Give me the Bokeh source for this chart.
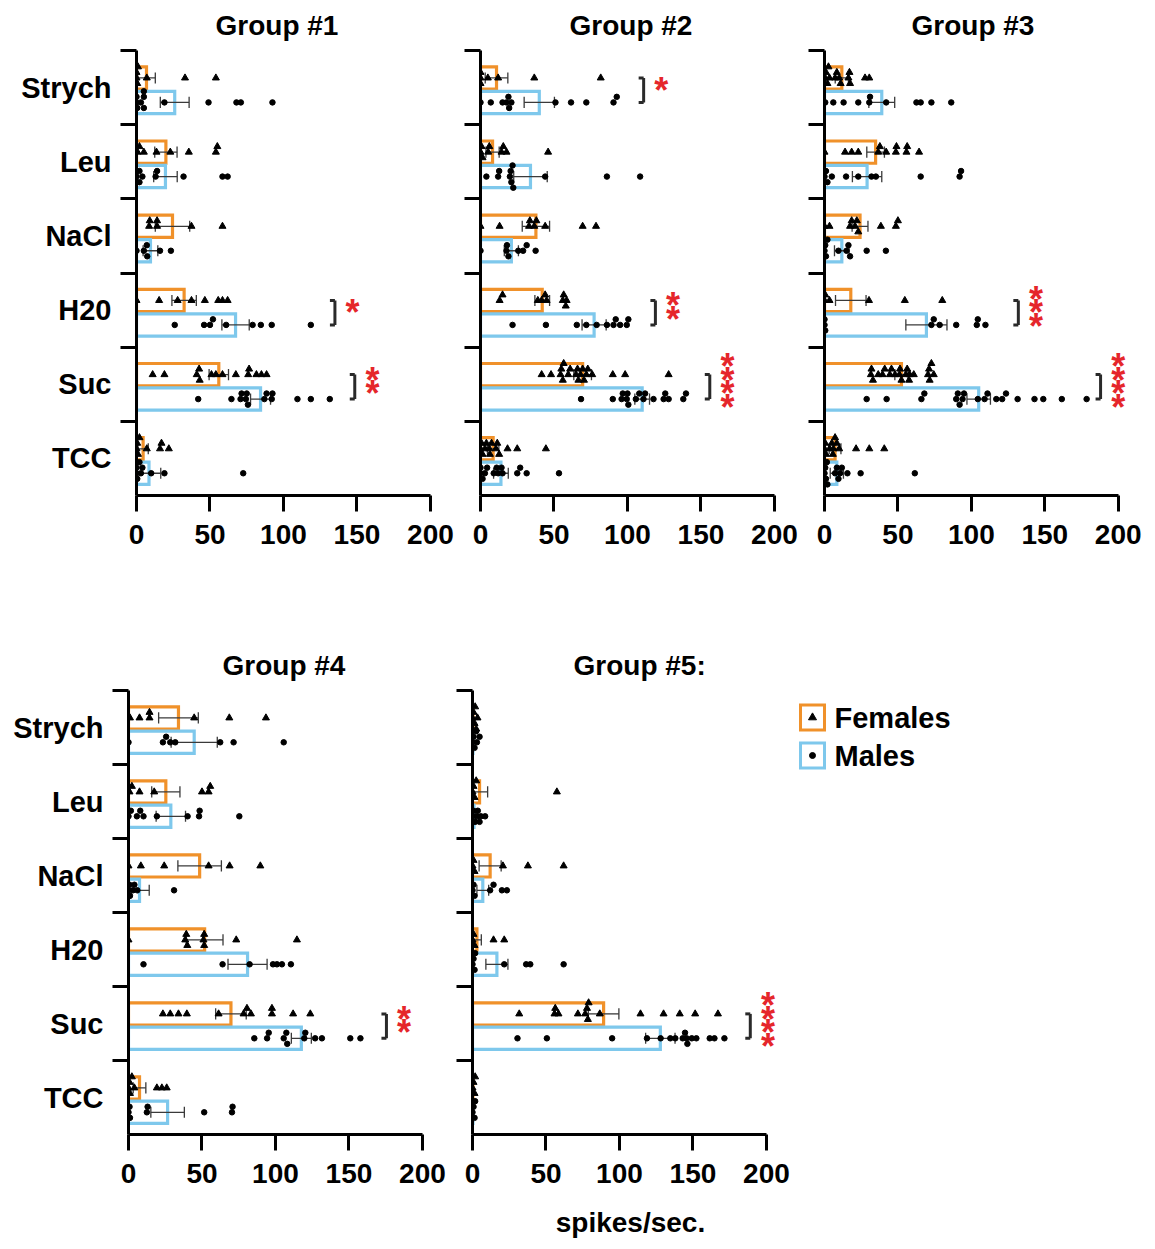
from bokeh.plotting import figure
from bokeh.layouts import row, column
from bokeh.models import Range1d, FixedTicker, LinearAxis
from bokeh.core.properties import value
from bokeh.embed import file_html
from bokeh.resources import INLINE

CATS = ["Strych", "Leu", "NaCl", "H20", "Suc", "TCC"]
XTICKS = [0, 50, 100, 150, 200]
TITLES = ["Group #1", "Group #2", "Group #3", "Group #4", "Group #5:"]
XLABEL = "spikes/sec."

# ---------------- Group #1 ----------------
G1_F_MEAN = [6.8, 20, 24.5, 32.4, 56, 4.5]
G1_F_SEM = [6, 7.6, 11.7, 8.3, 6.6, 3.5]
G1_M_MEAN = [26, 19.7, 9.5, 67.4, 84.4, 8.5]
G1_M_SEM = [9.8, 8, 5, 9.3, 6.8, 8]
G1_F_PTS = [[0, 0, 0.5, 1, 7, 33, 54],
            [0.7, 2, 5, 13.6, 23, 35.6, 54, 55],
            [8.6, 9, 14, 14, 37.4, 58.5],
            [0, 15.4, 28, 37.4, 46.5, 55.6, 58.5, 62],
            [11, 19, 41, 42.6, 43, 51, 54, 58.5, 67.6, 76, 76.6, 81.6, 85, 88.5],
            [0, 0.5, 1, 2, 7, 16, 17, 22]]
G1_M_PTS = [[0, 0, 0.5, 3, 5, 5, 5, 19, 49, 68, 71, 92.5],
            [0, 2, 2, 4, 13, 14, 32, 58.5, 62],
            [0, 5, 7, 7.3, 16, 23.4],
            [26, 46, 50, 52, 61, 79, 84.6, 92, 118.6],
            [42, 64.6, 70.8, 71.5, 74.4, 75, 75.8, 87, 88.5, 92, 92.5, 109.5, 118.6, 131.5],
            [0, 0, 0.5, 2, 3, 4, 10, 19, 72.6]]
G1_SIG = [("H20", 135, 1), ("Suc", 148.5, 2)]

# ---------------- Group #2 ----------------
G2_F_MEAN = [10.9, 8.2, 37.7, 42, 69.5, 8.6]
G2_F_SEM = [7.7, 4.5, 9.3, 5, 6, 3.9]
G2_M_MEAN = [40, 34, 21, 77.3, 110, 13.9]
G2_M_SEM = [10.3, 11.4, 4.8, 8.2, 5, 5]
G2_F_PTS = [[0, 0, 0, 5, 12, 36.6, 81.8],
            [0, 0.7, 1.4, 5.2, 6, 14.3, 15.5, 17.7, 46],
            [0, 13, 33, 33.6, 36.6, 38, 44, 69.5, 78.6],
            [13, 15, 39, 41.6, 44, 45, 56, 56.6, 58, 58.6],
            [41.6, 48, 54.5, 55, 56, 56.6, 59.7, 61, 65, 66, 66.6, 68, 69.5, 70.4, 72, 73, 76, 90, 98.4, 128],
            [0, 0.7, 1.4, 3, 4, 6, 6.4, 7.5, 10.5, 11.4, 12.7, 18.4, 25, 44.5]]
G2_M_PTS = [[0, 7, 15, 17.7, 19, 19.5, 21, 51, 61.6, 72, 90.5, 92.7],
            [4, 12, 12.7, 20, 20.5, 21, 21.8, 22.3, 44, 86, 108.6],
            [0, 17.7, 18, 19, 25.7, 29, 31.4, 37.5],
            [21.8, 44.5, 65.5, 72, 79, 86, 90.5, 92, 95, 99.5, 100.6],
            [68.4, 90, 96, 96.8, 99.5, 100, 100.6, 105.7, 108, 110.9, 112, 117.7, 124.6, 125.7, 128, 138, 139.8],
            [0, 0, 1.4, 3, 4.5, 9, 11, 12, 14.3, 15, 25, 27, 31.4, 53.4]]
G2_SIG = [("Strych", 111, 1), ("H20", 119, 2), ("Suc", 156, 4)]

# ---------------- Group #3 ----------------
G3_F_MEAN = [11.8, 34.8, 24.2, 17.9, 52.4, 7.2]
G3_F_SEM = [4.5, 6, 5.4, 10.4, 4.5, 4]
G3_M_MEAN = [39, 29, 11.8, 69.4, 105, 8.4]
G3_M_SEM = [8.8, 10, 5, 14, 8, 4.5]
G3_F_PTS = [[0.5, 1, 2, 2.7, 3.4, 7.2, 8.4, 10, 11, 16.3, 17, 17.4, 27.6, 30.5],
            [0, 14, 18.5, 23, 36.6, 37.7, 42, 48.6, 49, 55.8, 56.3, 64.4],
            [0, 3.4, 17.4, 18.5, 20.8, 22, 23, 38.4, 48.6, 50],
            [0, 0.5, 3.4, 30.3, 54.7, 80.2],
            [31.6, 32, 33, 36.6, 39.5, 41, 44.5, 45.6, 48, 51, 51.4, 52.4, 55.4, 56.3, 57.6, 58, 60.8, 70.5, 71.2, 71.6, 72.8, 74.4],
            [0, 0.5, 1, 3.4, 5, 5.7, 6, 7.2, 8.4, 10, 21.5, 30.5, 40.7]]
G3_M_PTS = [[0.5, 6, 13, 23, 30.5, 31, 42, 62.6, 65.5, 72.8, 86.3],
            [0, 1, 2, 5, 14.7, 23, 32, 35, 65.5, 92, 93],
            [0, 0.5, 1, 2, 9.5, 15, 16.3, 17.4, 28.7, 41.8],
            [0, 0, 0.5, 72.8, 74.4, 78.4, 89.7, 103.7, 104.4, 109.6],
            [28.7, 42.3, 66, 68, 89.7, 90.8, 92, 94, 95, 104.4, 109, 111, 117, 121, 123.6, 131.5, 143, 149, 161.6, 178.5],
            [0, 0.5, 1, 1.6, 2, 7.2, 8.4, 9.5, 10.6, 11.8, 15.6, 24.6, 61.5]]
G3_SIG = [("H20", 132, 3), ("Suc", 188, 4)]

# ---------------- Group #4 ----------------
G4_F_MEAN = [34, 25.4, 48.4, 51.8, 69.7, 7.5]
G4_F_SEM = [13.5, 9.6, 14.8, 12.5, 10.4, 4.3]
G4_M_MEAN = [44.7, 28.8, 7.5, 81, 117.6, 26.6]
G4_M_SEM = [15.7, 10, 6.6, 13.3, 6.8, 11.4]
G4_F_PTS = [[1, 7.5, 14.3, 14.3, 44.7, 68.6, 93.5],
            [0.7, 2.3, 7.5, 17.5, 50, 54.5, 55.6],
            [0, 8.4, 24.3, 54.5, 68.8, 89.7],
            [0, 38.6, 39.3, 40, 51, 51.5, 51.5, 73.3, 114.6],
            [23.4, 28.4, 34, 39.7, 61.3, 78.3, 80.6, 83.3, 97.6, 97.6, 112, 123.7],
            [0, 0.7, 1, 2.3, 4, 19.3, 22.7, 26]]
G4_M_PTS = [[0, 23.4, 25.6, 28.4, 31.8, 62.4, 71.5, 105.6],
            [0, 1.6, 5.7, 8, 10.2, 19.3, 40.2, 48, 48.4, 75.4],
            [0, 0.7, 1, 3, 4, 6, 31],
            [10.2, 64, 82.4, 98.3, 101, 104.4, 110.5],
            [85.6, 94.3, 95.4, 105.6, 107.4, 108, 119.6, 120.3, 127, 131.6, 150.9, 157.8],
            [0, 0.7, 1, 12.5, 13, 51.5, 70.4, 70.8]]
G4_SIG = [("Suc", 175.5, 2)]

# ---------------- Group #5 ----------------
G5_F_MEAN = [0.3, 4.8, 12, 3, 89.2, 0.3]
G5_F_SEM = [0.3, 5.5, 7.5, 3, 10.4, 0.3]
G5_M_MEAN = [0.3, 1, 7, 16.6, 127.8, 0.3]
G5_M_SEM = [0.3, 1, 4, 7.5, 10, 0.3]
G5_F_PTS = [[0, 0.7, 1.4, 1.8, 2.5, 3.4],
            [0, 0.7, 1.4, 2.5, 57.4],
            [0, 0.7, 1.4, 20.7, 37.7, 62],
            [0, 0.7, 1.4, 14.3, 21.6],
            [31.8, 55.8, 56.3, 58.5, 71.7, 76.7, 77.9, 78.5, 79, 86.6, 114.3, 130, 141, 151.5, 167],
            [0, 0.7, 1.4, 1.8]]
G5_M_PTS = [[0, 0.7, 1.4, 2.5, 3, 4.8],
            [0, 0.7, 1.8, 3, 3.6, 4.8, 5.7, 8.6],
            [0, 0.7, 1.4, 12, 14.3, 20, 23.4],
            [0, 0.7, 1.4, 1.8, 21.6, 36.5, 39.3, 62],
            [30.6, 50.6, 95, 118.7, 128, 134.6, 138, 143, 144.6, 145.7, 146.2, 149.2, 152.3, 161.4, 164.6, 171.4],
            [0, 0.7, 1.4, 1.8]]
G5_SIG = [("Suc", 189, 4)]

# ---------------- style ----------------
ORANGE = "#F0912A"
BLUE = "#7EC8EC"
RED = "#E5262B"
FONT = "Liberation Sans"
F_OFF, M_OFF, BAR_H = 0.13, -0.20, 0.30
STEP = 0.075
SLOTS = [0, 1, -1, 2, -2, 3, -3, 4, -4]
PX_PER_UNIT = 294 / 200


def dodge(vals, yc, thr=2.6):
    placed = []
    xs, ys = [], []
    for v in sorted(vals):
        used = {s for (pv, s) in placed if abs(pv - v) < thr}
        slot = next(s for s in SLOTS if s not in used)
        placed.append((v, slot))
        xs.append(v)
        ys.append(yc + slot * STEP)
    return xs, ys


def panel(idx, fm, fs, mm, ms, fp, mp, sig, labels, width, left, xmax,
          height, top, bottom, tleft):
    frame_w = round(PX_PER_UNIT * xmax)
    right = width - left - frame_w
    p = figure(width=width, height=height, x_range=Range1d(0, xmax),
               y_range=Range1d(0, 6), output_backend="svg",
               toolbar_location=None, min_border_left=left,
               min_border_right=right, min_border_top=top,
               min_border_bottom=bottom, title=TITLES[idx])
    p.title.align = "left"
    p.title.offset = tleft
    p.title.vertical_align = "top"
    p.title.text_font = FONT
    p.title.text_font_size = "28px"
    p.title.text_font_style = "bold"
    p.title.text_color = "black"
    p.title.standoff = 15
    p.outline_line_color = None
    p.xgrid.visible = False
    p.ygrid.visible = False
    p.background_fill_color = "white"
    p.border_fill_color = "white"

    centers = [5.5 - i for i in range(len(CATS))]
    yf = [c + F_OFF for c in centers]
    ym = [c + M_OFF for c in centers]

    p.hbar(y=yf, left=0, right=fm, height=BAR_H, fill_color=None,
           line_color=ORANGE, line_width=3.2, line_join="miter")
    p.hbar(y=ym, left=0, right=mm, height=BAR_H, fill_color=None,
           line_color=BLUE, line_width=3.2, line_join="miter")

    for ys_, mean, sem in ((yf, fm, fs), (ym, mm, ms)):
        lo = [max(0, m - s) for m, s in zip(mean, sem)]
        hi = [m + s for m, s in zip(mean, sem)]
        p.segment(x0=lo, x1=hi, y0=ys_, y1=ys_, line_color="#3a3a3a", line_width=1.3)
        for ends in (lo, hi):
            p.segment(x0=ends, x1=ends, y0=[y - 0.075 for y in ys_],
                      y1=[y + 0.075 for y in ys_], line_color="#3a3a3a", line_width=1.3)

    fx, fy, mx, my = [], [], [], []
    for i in range(len(CATS)):
        a, b = dodge(fp[i], yf[i])
        fx += a; fy += b
        a, b = dodge(mp[i], ym[i])
        mx += a; my += b
    p.scatter(fx, fy, marker="triangle", size=7, color="black")
    p.scatter(mx, my, marker="circle", size=5.5, color="black")

    # significance brackets and stars
    for cat, bx, n in sig:
        i = CATS.index(cat)
        y0, y1 = yf[i], ym[i]
        p.segment(x0=[bx, bx - 3.4, bx - 3.4], x1=[bx, bx, bx],
                  y0=[y0, y0, y1], y1=[y1, y0, y1],
                  line_color="#2a2a2a", line_width=3)
        yc = (y0 + y1) / 2
        offs = [(k - (n - 1) / 2) * 13.5 for k in range(n)]
        p.text(x=[bx + 12] * n, y=[yc] * n, text=["*"] * n,
               y_offset=offs, text_color=RED, text_font=value(FONT),
               text_font_style="bold", text_font_size="36px",
               text_align="center", text_baseline="alphabetic")

    # axes
    p.xaxis.ticker = FixedTicker(ticks=XTICKS)
    p.xaxis.bounds = (0, 200)
    p.xaxis.axis_line_width = 3
    p.xaxis.major_tick_line_width = 3
    p.xaxis.major_tick_out = 16
    p.xaxis.major_tick_in = 0
    p.xaxis.minor_tick_line_color = None
    p.xaxis.major_label_standoff = 13
    p.xaxis.major_label_text_font = FONT
    p.xaxis.major_label_text_font_size = "28px"
    p.xaxis.major_label_text_font_style = "bold"
    p.xaxis.major_label_text_color = "black"

    if labels:
        p.yaxis.ticker = FixedTicker(ticks=centers, minor_ticks=[1, 2, 3, 4, 5, 6])
        p.yaxis.major_label_overrides = {c: t for c, t in zip(centers, CATS)}
    else:
        p.yaxis.ticker = FixedTicker(ticks=[], minor_ticks=[1, 2, 3, 4, 5, 6])
    p.yaxis.axis_line_width = 3
    p.yaxis.major_tick_out = 0
    p.yaxis.major_tick_in = 0
    p.yaxis.minor_tick_out = 16
    p.yaxis.minor_tick_in = 0
    p.yaxis.minor_tick_line_width = 3
    p.yaxis.minor_tick_line_color = "black"
    p.yaxis.major_label_standoff = 9
    p.yaxis.major_label_text_font = FONT
    p.yaxis.major_label_text_font_size = "29px"
    p.yaxis.major_label_text_font_style = "bold"
    p.yaxis.major_label_text_color = "black"
    return p


TOP_H, BOT_H = 580, 669
p1 = panel(0, G1_F_MEAN, G1_F_SEM, G1_M_MEAN, G1_M_SEM, G1_F_PTS, G1_M_PTS, G1_SIG,
           True, 455, 136, 215, TOP_H, 50, 85, 79)
p2 = panel(1, G2_F_MEAN, G2_F_SEM, G2_M_MEAN, G2_M_SEM, G2_F_PTS, G2_M_PTS, G2_SIG,
           False, 343, 25, 215, TOP_H, 50, 85, 89)
p3 = panel(2, G3_F_MEAN, G3_F_SEM, G3_M_MEAN, G3_M_SEM, G3_F_PTS, G3_M_PTS, G3_SIG,
           False, 357, 26, 222, TOP_H, 50, 85, 87)
p4 = panel(3, G4_F_MEAN, G4_F_SEM, G4_M_MEAN, G4_M_SEM, G4_F_PTS, G4_M_PTS, G4_SIG,
           True, 447, 128, 215, BOT_H, 110, 115, 94)
p5 = panel(4, G5_F_MEAN, G5_F_SEM, G5_M_MEAN, G5_M_SEM, G5_F_PTS, G5_M_PTS, G5_SIG,
           False, 343, 25, 215, BOT_H, 110, 115, 101)

# shared x-axis label: an extra tick-less axis below Group #5 carrying only the label
lab_axis = LinearAxis(ticker=FixedTicker(ticks=[]), bounds=(20, 200),
                      axis_line_color=None, major_tick_out=0, major_tick_in=0,
                      minor_tick_out=0, minor_tick_in=0, major_label_standoff=0,
                      axis_label=XLABEL, axis_label_standoff=21,
                      axis_label_text_font=FONT, axis_label_text_font_size="28px",
                      axis_label_text_font_style="bold", axis_label_text_color="black")
p5.add_layout(lab_axis, "below")

# legend panel (frame spans the same rows as the bottom panels, 1 unit = 1 px)
lg = figure(width=365, height=BOT_H, x_range=Range1d(0, 365), y_range=Range1d(444, 0),
            output_backend="svg", toolbar_location=None, min_border_left=0,
            min_border_right=0, min_border_top=110, min_border_bottom=115)
lg.axis.visible = False
lg.xgrid.visible = False
lg.ygrid.visible = False
lg.outline_line_color = None
LEG_LABELS = ["Females", "Males"]
LEG_COLORS = [ORANGE, BLUE]
LEG_MARKERS = ["triangle", "circle"]
LEG_Y = [27, 65]
lg.rect(x=[22, 22], y=LEG_Y, width=24, height=25, fill_color=None,
        line_color=LEG_COLORS, line_width=3, line_join="miter")
lg.scatter(x=[22, 22], y=LEG_Y, marker=LEG_MARKERS, size=[8, 6], color="black")
lg.text(x=[44, 44], y=LEG_Y, text=LEG_LABELS, text_font=value(FONT),
        text_font_style="bold", text_font_size="29px", text_baseline="middle",
        text_color="black")

layout = column(row(p1, p2, p3), row(p4, p5, lg))
open("out.html", "w").write(file_html(layout, INLINE))
